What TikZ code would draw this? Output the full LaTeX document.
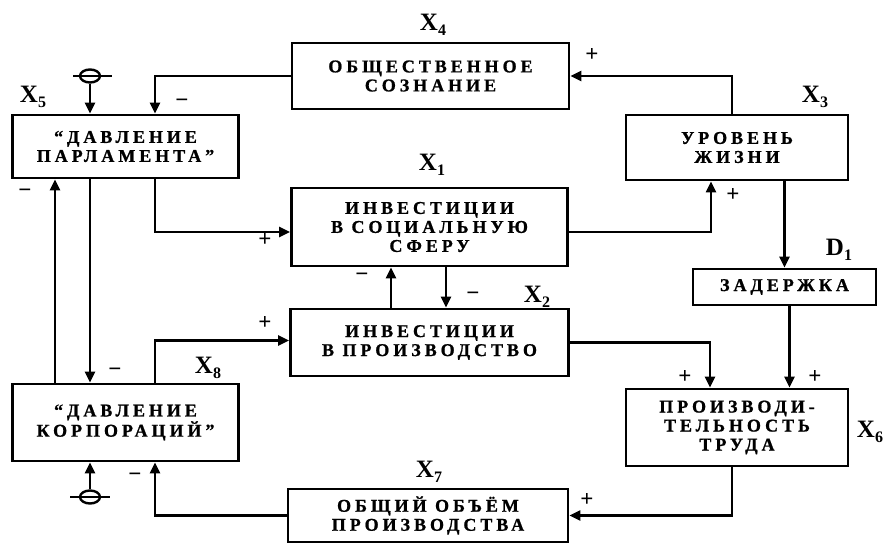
\documentclass[tikz,border=0pt]{standalone}
\usepackage{fontspec}
\setmainfont{Liberation Serif}
\newfontfamily\boxfont[LetterSpace=22,FakeBold=1]{Liberation Serif Bold}
\usetikzlibrary{arrows.meta, shapes.geometric}
\newcommand{\varlab}[2]{#1\lower5pt\hbox{\fontsize{16}{16}\selectfont #2}}

\begin{document}
\begin{tikzpicture}[
  x=1pt, y=-1pt,
  box/.style={
    draw, line width=2.8pt, align=center, inner sep=0pt,
    font=\boxfont\fontsize{18}{19}\selectfont
  },
  lab/.style={font=\fontsize{25}{25}\selectfont\bfseries},
  sign/.style={font=\fontsize{23}{23}\selectfont\bfseries},
  arr/.style={-{Triangle[length=11pt,width=10pt]}, line width=2.2pt},
  bar/.style={line width=2.4pt},
  valve/.style={draw, ellipse, line width=2.4pt, inner sep=0pt,
    minimum width=20pt, minimum height=13pt}
]
  \useasboundingbox (0,0) rectangle (892,546);

  % blocks
  \node[box, minimum width=277pt, minimum height=66pt] (x4) at (430.5,76)
    {ОБЩЕСТВЕННОЕ\\СОЗНАНИЕ};
  \node[box, minimum width=276pt, minimum height=78pt] (x1) at (429.5,227)
    {ИНВЕСТИЦИИ\\В СОЦИАЛЬНУЮ\\СФЕРУ};
  \node[box, minimum width=226pt, minimum height=63pt] (x5) at (125.5,146.5)
    {“ДАВЛЕНИЕ\\ПАРЛАМЕНТА”};
  \node[box, minimum width=222pt, minimum height=65pt] (x3) at (737,147.5)
    {УРОВЕНЬ\\ЖИЗНИ};
  \node[box, minimum width=183pt, minimum height=36pt] (d1) at (784.5,287)
    {ЗАДЕРЖКА};
  \node[box, minimum width=278pt, minimum height=67pt] (x2) at (429.5,342.5)
    {ИНВЕСТИЦИИ\\В ПРОИЗВОДСТВО};
  \node[box, minimum width=222pt, minimum height=77pt] (x6) at (737,427.5)
    {ПРОИЗВОДИ-\\ТЕЛЬНОСТЬ\\ТРУДА};
  \node[box, minimum width=226pt, minimum height=77pt] (x8) at (125.5,422.5)
    {“ДАВЛЕНИЕ\\КОРПОРАЦИЙ”};
  \node[box, minimum width=280pt, minimum height=53pt] (x7) at (428,515.5)
    {ОБЩИЙ ОБЪЁМ\\ПРОИЗВОДСТВА};

  % variable names
  \node[lab] (lx4) at (433,25) {\varlab{X}{4}};
  \node[lab] (lx1) at (432,165) {\varlab{X}{1}};
  \node[lab] (lx5) at (33,97) {\varlab{X}{5}};
  \node[lab] (lx3) at (815,97) {\varlab{X}{3}};
  \node[lab] (ld1) at (839,250) {\varlab{D}{1}};
  \node[lab] (lx2) at (537,297) {\varlab{X}{2}};
  \node[lab] (lx8) at (208,368) {\varlab{X}{8}};
  \node[lab] (lx6) at (870,432) {\varlab{X}{6}};
  \node[lab] (lx7) at (429,472) {\varlab{X}{7}};

  % exogenous inputs
  \node[valve] (v5) at (90,76) {};
  \draw[bar] ([xshift=-17pt]v5.center) -- ([xshift=22pt]v5.center);
  \node[valve] (v8) at (90,497) {};
  \draw[bar] ([xshift=-20pt]v8.center) -- ([xshift=20pt]v8.center);
  \draw[arr] (v5) -- (v5 |- x5.north);
  \draw[arr] (v8) -- (v8 |- x8.south);

  % links
  \draw[arr] ([xshift=-5pt]x3.north) |- (x4.east);
  \draw[arr] (x4.west) -| ([xshift=29.5pt]x5.north);
  \draw[arr] ([xshift=29.5pt]x5.south) |- ([yshift=-5pt]x1.west);
  \draw[arr] ([yshift=-5pt]x1.east) -| ([xshift=-26pt]x3.south);
  \draw[arr] (d1.north |- x3.south) -- (d1.north);
  \draw[arr] ([xshift=5pt]d1.south) -- ([xshift=52.5pt]x6.north);
  \draw[arr] (x2.east) -| ([xshift=-27pt]x6.north);
  \draw[arr] ([xshift=-5pt]x6.south) |- (x7.east);
  \draw[arr] (x7.west) -| ([xshift=29.5pt]x8.south);
  \draw[arr] ([xshift=29.5pt]x8.north) |- ([yshift=2pt]x2.west);
  \draw[arr] ([xshift=-35.5pt]x5.south) -- ([xshift=-35.5pt]x8.north);
  \draw[arr] ([xshift=-70.5pt]x8.north) -- ([xshift=-70.5pt]x5.south);
  \draw[arr] ([xshift=-38.5pt]x2.north) -- ([xshift=-38.5pt]x1.south);
  \draw[arr] ([xshift=16.5pt]x1.south) -- ([xshift=16.5pt]x2.north);

  % signs
  \foreach \px/\py/\sg [count=\i] in {592/55/+, 182/103/−, 265/240/+,
      733/195/+, 685/377/+, 815/377/+, 587/500/+, 135/477/−, 265/323/+,
      115/372/−, 25/193/−, 362/277/−, 473/296/−}
    \node[sign] (sg\i) at (\px,\py) {\sg};
\end{tikzpicture}
\end{document}
